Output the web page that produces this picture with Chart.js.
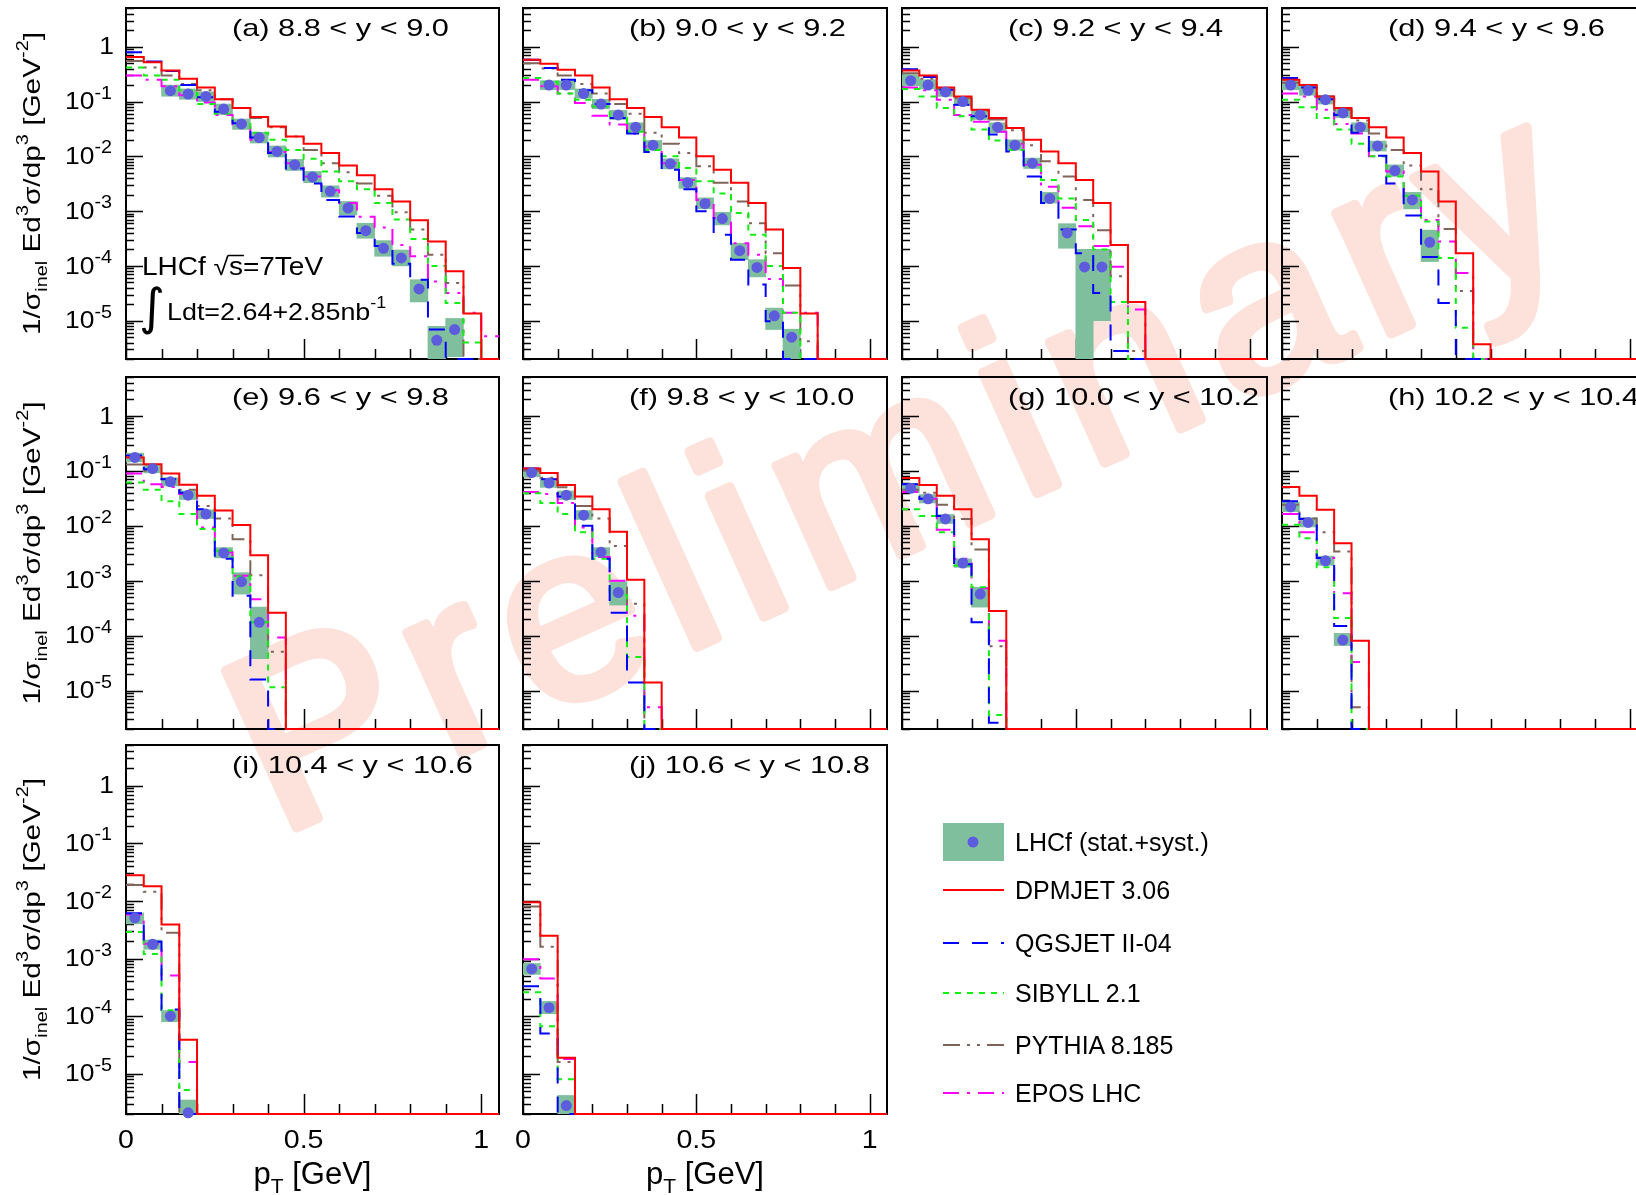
<!DOCTYPE html>
<html lang="en">
<head>
<meta charset="utf-8">
<title>LHCf pT spectra</title>
<script src="https://cdn.jsdelivr.net/npm/chart.js@4.4.1/dist/chart.umd.min.js"></script>
<style>
    html, body { margin: 0; padding: 0; background: #fff; }
    body { position: relative; width: 1636px; height: 1195px; overflow: hidden; }
    canvas { position: absolute; }
    #watermark { left: 0; top: 0; z-index: 0; }
    .panel { z-index: 1; }
    #legend { position: absolute; left: 930px; top: 810px; z-index: 1; }
</style>
</head>
<body>
<canvas id="watermark" width="1636" height="1195"></canvas>
<svg id="legend" width="320" height="310" xmlns="http://www.w3.org/2000/svg"></svg>
<script>
/* ==========================================================================
   LHCf pT spectra in rapidity bins vs. hadronic interaction models
   Chart.js v4, one chart per panel
   ========================================================================== */

const FONT = "'Liberation Sans', Arial, Helvetica, sans-serif";

const binEdges = [0, 0.05, 0.1, 0.15, 0.2, 0.25, 0.3, 0.35, 0.4, 0.45, 0.5, 0.55,
    0.6, 0.65, 0.7, 0.75, 0.8, 0.85, 0.9, 0.95, 1.0, 1.05];
const binCenters = [0.025, 0.075, 0.125, 0.175, 0.225, 0.275, 0.325, 0.375, 0.425,
    0.475, 0.525, 0.575, 0.625, 0.675, 0.725, 0.775, 0.825, 0.875, 0.925, 0.975, 1.025];

// values per bin, starting at the first bin; bins past the end of a list are empty

// (a) 8.8 < y < 9.0
const dpmA = [0.65, 0.52, 0.37, 0.26, 0.18, 0.11, 0.076, 0.052, 0.035, 0.023, 0.017, 0.0115, 0.0068, 0.0045, 0.0025, 0.0015, 6.8e-4, 2.8e-4, 8.0e-5, 1.35e-5];
const qgsA = [0.79, 0.54, 0.36, 0.2, 0.12, 0.065, 0.04, 0.022, 0.0115, 0.006, 0.0032, 1.6e-3, 8.0e-4, 4.0e-4, 2.3e-4, 1.1e-4, 5.6e-5, 6.9e-6];
const sibA = [0.42, 0.3, 0.25, 0.16, 0.09, 0.06, 0.042, 0.027, 0.02, 0.013, 0.009, 0.0053, 0.0035, 0.0025, 1.4e-3, 7.0e-4, 3.1e-4, 1.0e-4, 2.1e-5, 4.0e-6];
const pytA = [0.55, 0.42, 0.3, 0.21, 0.16, 0.11, 0.076, 0.05, 0.034, 0.023, 0.013, 0.0075, 0.0051, 0.0032, 1.9e-3, 9.5e-4, 4.6e-4, 1.6e-4, 4.9e-5];
const eposA = [0.3, 0.25, 0.19, 0.13, 0.096, 0.057, 0.038, 0.02, 0.012, 0.0075, 0.0043, 0.0024, 1.4e-3, 7.9e-4, 5.0e-4, 2.4e-4, 1.5e-4, 5.2e-5, 3.2e-5, 1.4e-5, 5.2e-6];
const lhcfA = [0.158, 0.137, 0.124, 0.073, 0.039, 0.022, 0.0123, 0.007, 0.0042, 0.0023, 1.14e-3, 4.4e-4, 2.1e-4, 1.4e-4, 3.8e-5, 4.4e-6, 6.9e-6];
const lhcfLoA = [0.125, 0.11, 0.1, 0.058, 0.031, 0.0175, 0.0097, 0.0055, 0.0033, 0.0018, 8.5e-4, 3.2e-4, 1.5e-4, 1.0e-4, 2.2e-5, 1.0e-6, 2.2e-6];
const lhcfHiA = [0.2, 0.17, 0.15, 0.09, 0.048, 0.0275, 0.0155, 0.0088, 0.0053, 0.0029, 1.5e-3, 6.0e-4, 2.9e-4, 1.95e-4, 5.6e-5, 7.9e-6, 1.1e-5];

// (b) 9.0 < y < 9.2
const dpmB = [0.58, 0.49, 0.38, 0.30, 0.18, 0.11, 0.076, 0.052, 0.034, 0.022, 0.01, 5.7e-3, 3.3e-3, 1.4e-3, 4.6e-4, 9.2e-5, 1.35e-5];
const qgsB = [0.58, 0.41, 0.25, 0.16, 0.09, 0.05, 0.026, 0.012, 5.7e-3, 2.5e-3, 1.0e-3, 3.7e-4, 1.3e-4, 4.6e-5, 9.8e-6];
const sibB = [0.27, 0.23, 0.14, 0.108, 0.081, 0.05, 0.028, 0.013, 0.01, 6.1e-3, 3.5e-3, 2.1e-3, 9.2e-4, 3.7e-4, 1.0e-4, 1.4e-5];
const pytB = [0.5, 0.4, 0.3, 0.21, 0.14, 0.09, 0.06, 0.027, 0.017, 0.0115, 6.6e-3, 3.3e-3, 1.5e-3, 6.0e-4, 1.7e-4, 4.4e-5, 4.2e-6];
const eposB = [0.25, 0.19, 0.14, 0.094, 0.055, 0.038, 0.026, 0.015, 7.5e-3, 3.7e-3, 1.6e-3, 7.5e-4, 2.6e-4, 1.6e-4, 5.8e-5, 1.4e-5, 1.4e-5];
const lhcfB = [0.2, 0.2, 0.14, 0.09, 0.057, 0.034, 0.016, 7.3e-3, 3.3e-3, 1.37e-3, 7.3e-4, 1.9e-4, 9.4e-5, 1.23e-5, 5.0e-6];
const lhcfLoB = [0.165, 0.165, 0.115, 0.074, 0.047, 0.028, 0.013, 5.9e-3, 2.6e-3, 1.1e-3, 5.6e-4, 1.3e-4, 6.3e-5, 6.9e-6, 1.0e-6];
const lhcfHiB = [0.24, 0.24, 0.17, 0.11, 0.069, 0.041, 0.0195, 9.0e-3, 4.1e-3, 1.75e-3, 9.5e-4, 2.6e-4, 1.3e-4, 1.7e-5, 7.0e-6];

// (c) 9.2 < y < 9.4
const dpmC = [0.37, 0.30, 0.18, 0.124, 0.071, 0.05, 0.033, 0.02, 0.0123, 7.5e-3, 3.7e-3, 1.4e-3, 2.4e-4, 2.2e-5];
const qgsC = [0.39, 0.28, 0.164, 0.087, 0.054, 0.025, 0.0123, 4.3e-3, 1.4e-3, 4.6e-4, 1.7e-4, 3.2e-5, 2.8e-6];
const sibC = [0.17, 0.124, 0.076, 0.054, 0.031, 0.0195, 0.013, 6.6e-3, 3.7e-3, 1.7e-3, 6.9e-4, 2.0e-4, 2.2e-5];
const pytC = [0.33, 0.26, 0.17, 0.115, 0.068, 0.047, 0.03, 0.016, 8.1e-3, 4.3e-3, 1.6e-3, 4.5e-4, 6.5e-5, 2.8e-6];
const eposC = [0.18, 0.16, 0.108, 0.057, 0.043, 0.028, 0.017, 7.0e-3, 2.8e-3, 1.15e-3, 5.3e-4, 2.3e-4, 9.7e-5, 1.6e-5];
const lhcfC = [0.24, 0.2, 0.15, 0.1, 0.057, 0.034, 0.016, 7.5e-3, 1.7e-3, 4.0e-4, 9.6e-5, 9.6e-5];
const lhcfLoC = [0.195, 0.17, 0.124, 0.084, 0.047, 0.027, 0.013, 6.0e-3, 1.4e-3, 2.1e-4, 1.0e-6, 1.0e-5];
const lhcfHiC = [0.31, 0.25, 0.18, 0.12, 0.071, 0.041, 0.02, 9.3e-3, 2.2e-3, 5.9e-4, 2.0e-4, 2.0e-4];

// (d) 9.4 < y < 9.6
const dpmD = [0.25, 0.2, 0.124, 0.076, 0.05, 0.034, 0.022, 0.0115, 5.3e-3, 1.5e-3, 1.7e-4, 3.7e-6];
const qgsD = [0.27, 0.18, 0.11, 0.057, 0.027, 0.0102, 3.2e-3, 8.3e-4, 1.45e-4, 2.1e-5];
const sibD = [0.108, 0.079, 0.05, 0.031, 0.017, 0.01, 4.3e-3, 1.9e-3, 6.5e-4, 1.4e-4, 7.4e-6];
const pytD = [0.22, 0.18, 0.115, 0.07, 0.045, 0.026, 0.013, 6.8e-3, 2.5e-3, 4.7e-4, 3.5e-5];
const eposD = [0.14, 0.124, 0.071, 0.039, 0.026, 0.01, 5.3e-3, 1.7e-3, 6.9e-4, 2.8e-4, 7.4e-5];
const lhcfD = [0.2, 0.16, 0.108, 0.062, 0.034, 0.0155, 5.5e-3, 1.6e-3, 2.7e-4];
const lhcfLoD = [0.165, 0.13, 0.09, 0.051, 0.028, 0.0125, 4.3e-3, 1.1e-3, 1.2e-4];
const lhcfHiD = [0.245, 0.195, 0.13, 0.075, 0.041, 0.019, 7.0e-3, 2.2e-3, 4.5e-4];

// (e) 9.6 < y < 9.8
const dpmE = [0.175, 0.132, 0.089, 0.056, 0.035, 0.019, 0.0103, 2.9e-3, 2.6e-4];
const qgsE = [0.19, 0.107, 0.07, 0.04, 0.02, 2.5e-3, 5.3e-4, 1.6e-5];
const sibE = [0.061, 0.045, 0.028, 0.0163, 8.7e-3, 3.5e-3, 1.2e-3, 1.75e-4, 1.15e-5];
const pytE = [0.13, 0.1, 0.07, 0.045, 0.023, 0.0136, 5.7e-3, 1.26e-3, 5.1e-5];
const eposE = [0.089, 0.057, 0.051, 0.038, 9.3e-3, 3.3e-3, 1.23e-3, 4.6e-4, 9.3e-5];
const lhcfE = [0.175, 0.11, 0.063, 0.036, 0.0163, 3.2e-3, 9.6e-4, 1.75e-4];
const lhcfLoE = [0.145, 0.092, 0.053, 0.03, 0.0135, 2.6e-3, 5.7e-4, 3.8e-5];
const lhcfHiE = [0.21, 0.13, 0.075, 0.043, 0.0195, 4.0e-3, 1.4e-3, 3.3e-4];

// (f) 9.8 < y < 10.0
const dpmF = [0.11, 0.091, 0.055, 0.034, 0.02, 7.8e-3, 1.04e-3, 1.4e-5];
const qgsF = [0.11, 0.07, 0.034, 0.01, 2.5e-3, 2.6e-4, 1.4e-5];
const sibF = [0.039, 0.026, 0.0163, 7.6e-3, 2.5e-3, 5.5e-4, 4.1e-5];
const pytF = [0.1, 0.075, 0.05, 0.023, 0.0136, 4.3e-3, 3.8e-4];
const eposF = [0.041, 0.038, 0.026, 9.3e-3, 2.7e-3, 1.0e-3, 2.3e-4, 5.0e-6];
const lhcfF = [0.093, 0.06, 0.036, 0.0156, 3.3e-3, 6.1e-4];
const lhcfLoF = [0.078, 0.05, 0.03, 0.013, 2.7e-3, 3.6e-4];
const lhcfHiF = [0.11, 0.072, 0.043, 0.019, 4.0e-3, 9.6e-4];

// (g) 10.0 < y < 10.2
const dpmG = [0.074, 0.055, 0.035, 0.02, 5.7e-3, 2.8e-4];
const qgsG = [0.057, 0.031, 0.015, 2.0e-3, 1.75e-4, 2.6e-6];
const sibG = [0.02, 0.015, 7.6e-3, 1.9e-3, 7.6e-4, 3.6e-6];
const pytG = [0.045, 0.04, 0.024, 0.0133, 3.7e-3, 6.4e-5];
const eposG = [0.041, 0.031, 8.5e-3, 2.5e-3, 7.3e-4, 8.1e-5];
const lhcfG = [0.048, 0.031, 0.0133, 2.1e-3, 5.7e-4];
const lhcfLoG = [0.04, 0.026, 0.011, 1.75e-3, 3.3e-4];
const lhcfHiG = [0.058, 0.037, 0.016, 2.5e-3, 7.6e-4];

// (h) 10.2 < y < 10.4
const dpmH = [0.051, 0.035, 0.0195, 4.8e-3, 8.1e-5];
const qgsH = [0.028, 0.0133, 2.6e-3, 1.5e-4];
const sibH = [0.0104, 5.9e-3, 1.75e-3, 2.1e-4];
const pytH = [0.024, 0.0136, 7.6e-3, 3.4e-3, 5.0e-6];
const eposH = [0.0163, 7.6e-3, 2.6e-3, 5.9e-4, 3.3e-5];
const lhcfH = [0.022, 0.0115, 2.3e-3, 8.3e-5];
const lhcfLoH = [0.018, 9.5e-3, 1.9e-3, 6.6e-5];
const lhcfHiH = [0.027, 0.014, 2.8e-3, 1.1e-4];

// (i) 10.4 < y < 10.6
const dpmI = [0.028, 0.018, 3.9e-3, 3.9e-5];
const qgsI = [6.1e-3, 1.96e-3, 1.3e-4];
const sibI = [2.9e-3, 1.2e-3, 1.26e-4, 5.2e-6];
const pytI = [0.019, 0.0145, 2.8e-3];
const eposI = [5.8e-3, 1.8e-3, 5.1e-4, 1.6e-5];
const lhcfI = [5.1e-3, 1.77e-3, 1.0e-4, 2.1e-6];
const lhcfLoI = [4.0e-3, 1.45e-3, 8.0e-5, 1.0e-6];
const lhcfHiI = [6.2e-3, 2.1e-3, 1.25e-4, 3.5e-6];

// (j) 10.6 < y < 10.8
const dpmJ = [9.5e-3, 2.5e-3, 1.9e-5];
const qgsJ = [3.3e-4, 5.0e-5];
const sibJ = [2.6e-4, 6.7e-5, 8.0e-6];
const pytJ = [8.0e-3, 1.6e-3, 1.6e-5];
const eposJ = [9.7e-4, 4.5e-4, 1.8e-5];
const lhcfJ = [6.6e-4, 1.4e-4, 2.8e-6];
const lhcfLoJ = [5.3e-4, 1.1e-4, 1.0e-6];
const lhcfHiJ = [8.2e-4, 1.8e-4, 4.2e-6];

const panelTitles = [
    "(a) 8.8 < y < 9.0", "(b) 9.0 < y < 9.2", "(c) 9.2 < y < 9.4", "(d) 9.4 < y < 9.6",
    "(e) 9.6 < y < 9.8", "(f) 9.8 < y < 10.0", "(g) 10.0 < y < 10.2", "(h) 10.2 < y < 10.4",
    "(i) 10.4 < y < 10.6", "(j) 10.6 < y < 10.8"
];
const lhcfFirstBin = [2, 1, 0, 0, 0, 0, 0, 0, 0, 0];

const yTickExponents = [-5, -4, -3, -2, -1, 0];
const xTickValues = [0, 0.5, 1];
const xTickLabels = ["0", "0.5", "1"];

const Y_MIN = 2e-6;
const Y_MAX = 5.1;
const X_MAX = 1.05;

/* layout (page pixels) */
const columns = [
    { left: 126, right: 499 },
    { left: 523, right: 887 },
    { left: 902, right: 1267 },
    { left: 1282, right: 1647 }
];
const rows = [
    { top: 8, bottom: 359 },
    { top: 377, bottom: 729 },
    { top: 745, bottom: 1114 }
];
const legendRowsY = [80, 133, 183, 235, 283];

const BOX_COLOR = "#80bf9e";
const DOT_COLOR = "#5c5cdc";

const models = [
    { key: "dpm", name: "DPMJET 3.06", color: "#ff0000", dash: [], order: 2 },
    { key: "qgs", name: "QGSJET II-04", color: "#0000ff", dash: [16, 13], order: 3 },
    { key: "sib", name: "SIBYLL 2.1", color: "#11ee11", dash: [6, 6], order: 4 },
    { key: "pyt", name: "PYTHIA 8.185", color: "#80645a", dash: [17, 7, 3, 7, 3, 7], order: 5 },
    { key: "epos", name: "EPOS LHC", color: "#ff00ff", dash: [16, 8, 3, 8], order: 6 }
];

const panels = [
    { col: 0, row: 0, dpm: dpmA, qgs: qgsA, sib: sibA, pyt: pytA, epos: eposA, lhcf: lhcfA, lo: lhcfLoA, hi: lhcfHiA },
    { col: 1, row: 0, dpm: dpmB, qgs: qgsB, sib: sibB, pyt: pytB, epos: eposB, lhcf: lhcfB, lo: lhcfLoB, hi: lhcfHiB },
    { col: 2, row: 0, dpm: dpmC, qgs: qgsC, sib: sibC, pyt: pytC, epos: eposC, lhcf: lhcfC, lo: lhcfLoC, hi: lhcfHiC },
    { col: 3, row: 0, dpm: dpmD, qgs: qgsD, sib: sibD, pyt: pytD, epos: eposD, lhcf: lhcfD, lo: lhcfLoD, hi: lhcfHiD },
    { col: 0, row: 1, dpm: dpmE, qgs: qgsE, sib: sibE, pyt: pytE, epos: eposE, lhcf: lhcfE, lo: lhcfLoE, hi: lhcfHiE },
    { col: 1, row: 1, dpm: dpmF, qgs: qgsF, sib: sibF, pyt: pytF, epos: eposF, lhcf: lhcfF, lo: lhcfLoF, hi: lhcfHiF },
    { col: 2, row: 1, dpm: dpmG, qgs: qgsG, sib: sibG, pyt: pytG, epos: eposG, lhcf: lhcfG, lo: lhcfLoG, hi: lhcfHiG },
    { col: 3, row: 1, dpm: dpmH, qgs: qgsH, sib: sibH, pyt: pytH, epos: eposH, lhcf: lhcfH, lo: lhcfLoH, hi: lhcfHiH },
    { col: 0, row: 2, dpm: dpmI, qgs: qgsI, sib: sibI, pyt: pytI, epos: eposI, lhcf: lhcfI, lo: lhcfLoI, hi: lhcfHiI },
    { col: 1, row: 2, dpm: dpmJ, qgs: qgsJ, sib: sibJ, pyt: pytJ, epos: eposJ, lhcf: lhcfJ, lo: lhcfLoJ, hi: lhcfHiJ }
];

/* --------------------------------------------------------------------------
   datasets
   -------------------------------------------------------------------------- */

function stepPoints(values) {
    const pts = binEdges.slice(0, -1).map((x, i) => {
        const v = i < values.length ? values[i] : 0;
        // empty bins sit on the lower frame edge, like ROOT does
        return { x: x, y: v > 0 ? v : Y_MIN };
    });
    pts.push({ x: binEdges[binEdges.length - 1], y: pts[pts.length - 1].y });
    return pts;
}

function histogramDataset(model, values) {
    return {
        type: "line",
        label: model.name,
        data: stepPoints(values),
        borderColor: model.color,
        borderWidth: 2,
        borderDash: model.dash,
        stepped: true,
        pointRadius: 0,
        fill: false,
        order: model.order,
        clip: 3
    };
}

function lhcfDatasets(p) {
    const boxes = p.lhcf.map((v, k) => ({ x: binCenters[p.first + k], y: [p.lo[k], p.hi[k]] }));
    const dots = p.lhcf.map((v, k) => ({ x: binCenters[p.first + k], y: v }));

    return [
        {
            type: "bar",
            label: "LHCf syst",
            data: boxes,
            backgroundColor: BOX_COLOR,
            borderWidth: 0,
            barPercentage: 1,
            categoryPercentage: 1,
            order: 10
        },
        {
            type: "line",
            label: "LHCf",
            data: dots,
            showLine: false,
            pointRadius: 5.5,
            pointBackgroundColor: DOT_COLOR,
            pointBorderWidth: 0,
            order: 0,
            clip: false
        }
    ];
}

/* --------------------------------------------------------------------------
   frame, ticks and texts
   -------------------------------------------------------------------------- */

function fillStretched(ctx, text, x, y, sx) {
    ctx.save();
    ctx.translate(x, y);
    ctx.scale(sx, 1);
    ctx.fillText(text, 0, 0);
    ctx.restore();
}

function drawFrame(chart) {
    const ctx = chart.ctx;
    const a = chart.chartArea;
    const sx = chart.scales.x;
    const sy = chart.scales.y;

    ctx.save();
    ctx.strokeStyle = "#000";
    ctx.lineWidth = 1.5;
    ctx.beginPath();

    for (let k = -6; k <= 0; k++) {
        for (let m = 1; m <= 9; m++) {
            const v = m * Math.pow(10, k);
            if (v < Y_MIN || v > Y_MAX) continue;
            const py = Math.round(sy.getPixelForValue(v)) + 0.5;
            const len = m === 1 ? 17 : 8;
            ctx.moveTo(a.left, py);
            ctx.lineTo(a.left + len, py);
        }
    }

    for (let t = 0; t <= 10; t++) {
        const px = Math.round(sx.getPixelForValue(t / 10)) + 0.5;
        const len = (t === 0 || t === 5 || t === 10) ? 20 : 10;
        ctx.moveTo(px, a.bottom);
        ctx.lineTo(px, a.bottom - len);
    }
    ctx.stroke();

    ctx.lineWidth = 2;
    ctx.strokeRect(a.left, a.top, a.right - a.left, a.bottom - a.top);
    ctx.restore();
}

function drawPower(ctx, k, xRight, y) {
    ctx.textBaseline = "middle";

    if (k === 0) {
        ctx.font = "24px " + FONT;
        ctx.textAlign = "right";
        fillStretched(ctx, "1", xRight + 2, y + 1, 1.1);
        return;
    }

    const stretch = 1.1;
    ctx.textAlign = "left";
    ctx.font = "24px " + FONT;
    const wMain = ctx.measureText("10").width * stretch;
    ctx.font = "18px " + FONT;
    const sup = String(k);
    const wSup = ctx.measureText(sup).width * stretch;
    const x0 = xRight - wMain - wSup;

    ctx.font = "24px " + FONT;
    fillStretched(ctx, "10", x0, y + 1, stretch);
    ctx.font = "18px " + FONT;
    fillStretched(ctx, sup, x0 + wMain, y - 8, stretch);
}

function drawYTitle(ctx, a) {
    const parts = [
        ["1/σ", 0], ["inel", 1], [" Ed", 0], ["3", 2], ["σ/dp", 0],
        ["3", 2], [" [GeV", 0], ["-2", 2], ["]", 0]
    ];
    const fonts = ["24px " + FONT, "16px " + FONT, "16px " + FONT];
    const offsets = [0, 7, -12];

    ctx.save();
    let total = 0;
    parts.forEach(p => {
        ctx.font = fonts[p[1]];
        total += ctx.measureText(p[0]).width;
    });

    ctx.translate(40, (a.top + a.bottom) / 2);
    ctx.rotate(-Math.PI / 2);
    ctx.scale(303 / total, 1);
    ctx.textAlign = "left";
    ctx.textBaseline = "alphabetic";

    let x = -total / 2;
    parts.forEach(p => {
        ctx.font = fonts[p[1]];
        ctx.fillText(p[0], x, offsets[p[1]]);
        x += ctx.measureText(p[0]).width;
    });
    ctx.restore();
}

function drawXAxisTexts(ctx, a, sx) {
    ctx.save();
    ctx.font = "26px " + FONT;
    ctx.textAlign = "center";
    ctx.textBaseline = "middle";
    xTickValues.forEach((v, i) => {
        fillStretched(ctx, xTickLabels[i], sx.getPixelForValue(v), a.bottom + 27, 1.1);
    });

    const parts = [["p", "31px ", 0], ["T", "21px ", 9], [" [GeV]", "31px ", 0]];
    let total = 0;
    parts.forEach(p => {
        ctx.font = p[1] + FONT;
        total += ctx.measureText(p[0]).width;
    });

    ctx.textAlign = "left";
    ctx.textBaseline = "alphabetic";
    let x = (a.left + a.right) / 2 - total / 2;
    parts.forEach(p => {
        ctx.font = p[1] + FONT;
        ctx.fillText(p[0], x, a.bottom + 70 + p[2]);
        x += ctx.measureText(p[0]).width;
    });
    ctx.restore();
}

function drawRunInfo(ctx) {
    const stretch = 1.12;

    ctx.save();
    ctx.fillStyle = "#000";
    ctx.textAlign = "left";
    ctx.textBaseline = "middle";

    ctx.font = "25px " + FONT;
    fillStretched(ctx, "LHCf √s=7TeV", 142, 268, stretch);

    // bar over the s of the square root
    const wRoot = ctx.measureText("LHCf √").width * stretch;
    const wS = ctx.measureText("s").width * stretch;
    ctx.strokeStyle = "#000";
    ctx.lineWidth = 1.5;
    ctx.beginPath();
    ctx.moveTo(142 + wRoot - 1, 255.5);
    ctx.lineTo(142 + wRoot + wS + 1, 255.5);
    ctx.stroke();

    ctx.font = "50px 'DejaVu Sans', sans-serif";
    ctx.fillText("∫", 139, 311);

    ctx.font = "24px " + FONT;
    const line2 = "Ldt=2.64+2.85nb";
    fillStretched(ctx, line2, 167, 313, stretch);
    const w2 = ctx.measureText(line2).width * stretch;
    ctx.font = "16px " + FONT;
    fillStretched(ctx, "-1", 167 + w2, 304, stretch);
    ctx.restore();
}

function drawTexts(chart) {
    const ctx = chart.ctx;
    const a = chart.chartArea;
    const p = chart.canvas.panelInfo;

    ctx.save();
    ctx.fillStyle = "#000";
    ctx.font = "24px " + FONT;
    ctx.textAlign = "left";
    ctx.textBaseline = "middle";
    fillStretched(ctx, p.title, a.left + 106, a.top + 21, 1.28);

    if (p.col === 0) {
        yTickExponents.forEach(k => {
            drawPower(ctx, k, a.left - 14, chart.scales.y.getPixelForValue(Math.pow(10, k)));
        });
        drawYTitle(ctx, a);
    }

    if (p.row === 2 && p.col <= 1) {
        drawXAxisTexts(ctx, a, chart.scales.x);
    }

    if (p.index === 0) {
        drawRunInfo(ctx);
    }
    ctx.restore();
}

const framePlugin = {
    id: "frame",
    beforeDatasetsDraw(chart) {
        drawFrame(chart);
    },
    afterDraw(chart) {
        drawTexts(chart);
    }
};

/* --------------------------------------------------------------------------
   panels
   -------------------------------------------------------------------------- */

function createPanel(p) {
    const col = columns[p.col];
    const row = rows[p.row];

    const pad = {
        left: p.col === 0 ? col.left : 10,
        top: p.row === 0 ? row.top : 10,
        right: 10,
        bottom: (p.row === 2 && p.col <= 1) ? 1195 - row.bottom : 10
    };

    const canvas = document.createElement("canvas");
    canvas.className = "panel";
    canvas.width = col.right - col.left + pad.left + pad.right;
    canvas.height = row.bottom - row.top + pad.top + pad.bottom;
    canvas.style.left = (col.left - pad.left) + "px";
    canvas.style.top = (row.top - pad.top) + "px";
    canvas.panelInfo = p;
    document.body.appendChild(canvas);

    const datasets = models.map(m => histogramDataset(m, p[m.key])).concat(lhcfDatasets(p));

    new Chart(canvas, {
        type: "line",
        data: { datasets: datasets },
        options: {
            responsive: false,
            animation: false,
            devicePixelRatio: 1,
            events: [],
            layout: { padding: pad },
            plugins: {
                legend: { display: false },
                tooltip: { enabled: false }
            },
            scales: {
                x: { type: "linear", min: 0, max: X_MAX, display: false, bounds: "data", offset: false },
                y: { type: "logarithmic", min: Y_MIN, max: Y_MAX, display: false, bounds: "data" }
            }
        },
        plugins: [framePlugin]
    });
}

/* --------------------------------------------------------------------------
   watermark and legend
   -------------------------------------------------------------------------- */

function drawWatermark() {
    const ctx = document.getElementById("watermark").getContext("2d");
    ctx.save();
    ctx.translate(278, 836);
    ctx.rotate(-24.3 * Math.PI / 180);
    ctx.font = "250px " + FONT;
    ctx.letterSpacing = "18px";
    ctx.fillStyle = "#fde1db";
    ctx.strokeStyle = "#fde1db";
    ctx.lineWidth = 10;
    ctx.lineJoin = "round";
    ctx.lineCap = "round";
    ctx.textBaseline = "alphabetic";
    ctx.strokeText("Preliminary", 0, 0);
    ctx.fillText("Preliminary", 0, 0);
    ctx.restore();
}

function svgEl(tag, attrs, text) {
    const el = document.createElementNS("http://www.w3.org/2000/svg", tag);
    Object.keys(attrs).forEach(k => el.setAttribute(k, attrs[k]));
    if (text) el.textContent = text;
    return el;
}

function buildLegend() {
    const svg = document.getElementById("legend");
    const textAttrs = y => ({
        x: 85, y: y, "font-family": "Liberation Sans, Arial, sans-serif",
        "font-size": 25, fill: "#000", "dominant-baseline": "central"
    });

    svg.appendChild(svgEl("rect", { x: 13, y: 13, width: 61, height: 38, fill: BOX_COLOR }));
    svg.appendChild(svgEl("circle", { cx: 43, cy: 32, r: 5.5, fill: DOT_COLOR }));
    svg.appendChild(svgEl("text", textAttrs(32), "LHCf (stat.+syst.)"));

    models.forEach((m, i) => {
        const y = legendRowsY[i];
        svg.appendChild(svgEl("line", {
            x1: 13, x2: 74, y1: y, y2: y, stroke: m.color, "stroke-width": 2,
            "stroke-dasharray": m.dash.length ? m.dash.join(" ") : "none"
        }));
        svg.appendChild(svgEl("text", textAttrs(y), m.name));
    });
}

drawWatermark();
buildLegend();

panels.forEach((p, i) => {
    p.index = i;
    p.title = panelTitles[i];
    p.first = lhcfFirstBin[i];
    createPanel(p);
});
</script>
</body>
</html>
